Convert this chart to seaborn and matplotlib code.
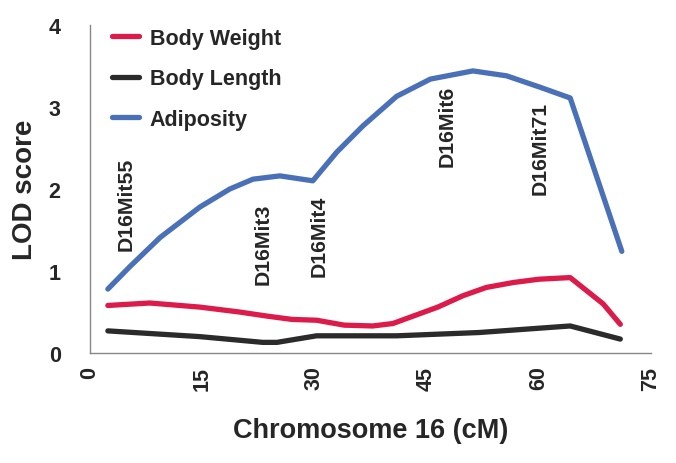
import pandas as pd
import matplotlib.pyplot as plt
import seaborn as sns

# ---- data ----
adip_cm = [2.4, 5.3, 9.4, 14.7, 18.7, 21.8, 25.4, 29.8, 33.0, 36.5, 41.0, 45.5, 51.2, 55.7, 60.2, 64.2, 71.1]
adip_lod = [0.78, 1.05, 1.41, 1.78, 2.00, 2.12, 2.16, 2.10, 2.45, 2.77, 3.13, 3.34, 3.44, 3.38, 3.24, 3.11, 1.24]

weight_cm = [2.4, 8.0, 14.7, 20.0, 23.7, 27.0, 30.3, 34.0, 37.8, 40.5, 43.2, 46.5, 49.9, 53.0, 56.6, 60.0, 64.2, 68.6, 70.9]
weight_lod = [0.58, 0.61, 0.56, 0.50, 0.45, 0.41, 0.40, 0.34, 0.33, 0.36, 0.45, 0.56, 0.70, 0.80, 0.86, 0.90, 0.92, 0.60, 0.35]

length_cm = [2.4, 14.7, 23.1, 25.0, 30.3, 41.0, 52.0, 64.2, 70.9]
length_lod = [0.27, 0.20, 0.13, 0.13, 0.21, 0.21, 0.25, 0.33, 0.17]

markers = ["D16Mit55", "D16Mit3", "D16Mit4", "D16Mit6", "D16Mit71"]
marker_cm = [4.9, 23.1, 30.7, 47.7, 60.2]
marker_lod = [1.82, 1.34, 1.44, 2.77, 2.51]

traits = ["Body Weight", "Body Length", "Adiposity"]
colors = ["#DC1B4B", "#2B2B2B", "#4A70B8"]

df = pd.concat([
    pd.DataFrame({"cM": weight_cm, "LOD": weight_lod, "trait": "Body Weight"}),
    pd.DataFrame({"cM": length_cm, "LOD": length_lod, "trait": "Body Length"}),
    pd.DataFrame({"cM": adip_cm, "LOD": adip_lod, "trait": "Adiposity"}),
], ignore_index=True)

sns.set_style("white")
plt.rcParams['font.family'] = ['Liberation Sans', 'DejaVu Sans']
plt.rcParams['font.weight'] = 'bold'

fig = plt.figure(figsize=(6.76, 4.64), dpi=100)
ax = fig.add_axes([0.133, 0.237, 0.830, 0.707])

sns.lineplot(data=df, x="cM", y="LOD", hue="trait", hue_order=traits,
             palette=colors, sort=False, estimator=None, linewidth=3.8, ax=ax)

for name, xm, ym in zip(markers, marker_cm, marker_lod):
    ax.text(xm, ym, name, rotation=90, ha="center", va="center",
            fontsize=15.3, fontweight="bold")

ax.set_xlim(0, 75)
ax.set_ylim(0, 4)
ax.set_xticks([0, 15, 30, 45, 60, 75])
ax.set_yticks([0, 1, 2, 3, 4])
ax.tick_params(axis="x", direction="in", length=6, width=1, color="#888888",
               labelsize=15.5, pad=9, labelrotation=90)
ax.tick_params(axis="y", direction="in", length=6, width=1, color="#888888",
               labelsize=15.5, pad=21)
for lab in ax.get_xticklabels() + ax.get_yticklabels():
    lab.set_fontweight("bold")

for s in ["top", "right"]:
    ax.spines[s].set_visible(False)
for s in ["left", "bottom"]:
    ax.spines[s].set_color("#888888")
    ax.spines[s].set_linewidth(1)

ax.set_xlabel("Chromosome 16 (cM)", fontsize=19.5, fontweight="bold", labelpad=20)
ax.set_ylabel("LOD score", fontsize=20, fontweight="bold", labelpad=8)

ax.legend(loc="upper left", bbox_to_anchor=(0.005, 1.05), frameon=False,
          handlelength=1.25, handletextpad=0.5, labelspacing=0.9,
          prop={"weight": "bold", "size": 15.5})

fig.savefig("out.png", dpi=100)
